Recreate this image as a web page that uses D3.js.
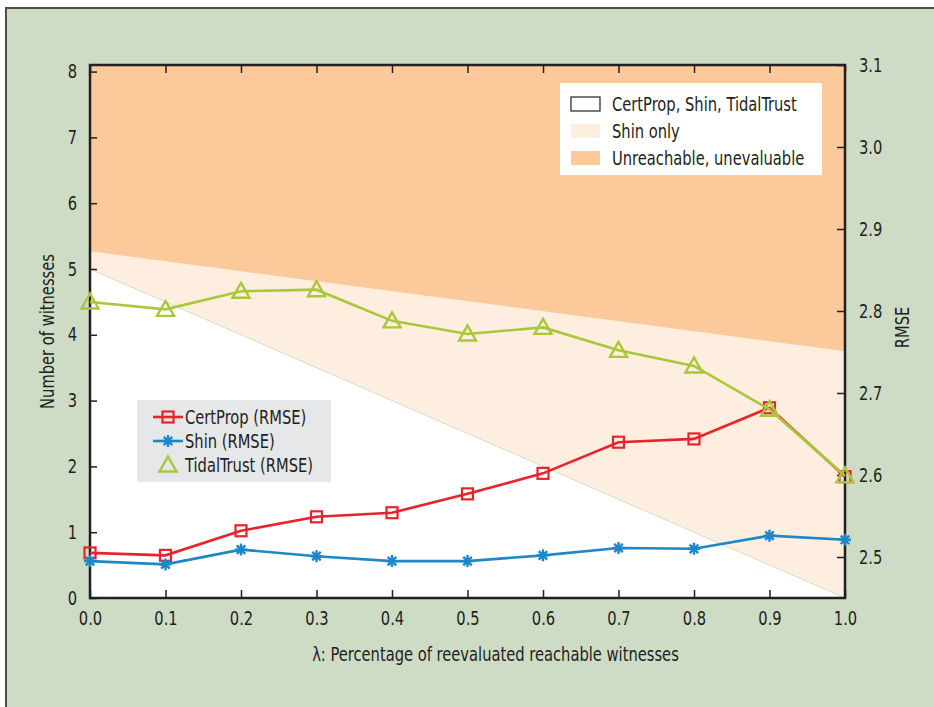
<!DOCTYPE html>
<html>
<head>
<meta charset="utf-8">
<script src="https://cdn.jsdelivr.net/npm/d3@7/dist/d3.min.js"></script>
<style>
  body { margin: 0; background: #fff; }
  text { font-family: "Liberation Sans Narrow", "DejaVu Sans Condensed", "Roboto Condensed", sans-serif; fill: #231f20; }
</style>
</head>
<body>
<div id="container"></div>
<script>
// x values (lambda)
const lambdas = [0.0, 0.1, 0.2, 0.3, 0.4, 0.5, 0.6, 0.7, 0.8, 0.9, 1.0];

// RMSE series (right axis)
const certPropRmse = [2.505, 2.502, 2.532, 2.549, 2.554, 2.577, 2.602, 2.640, 2.644, 2.682, 2.598];
const shinRmse = [2.495, 2.491, 2.509, 2.501, 2.495, 2.495, 2.502, 2.511, 2.510, 2.526, 2.521];
const tidalTrustRmse = [2.811, 2.802, 2.824, 2.826, 2.788, 2.772, 2.780, 2.752, 2.733, 2.680, 2.599];

// region boundaries in number of witnesses (left axis), at lambda 0 and 1
const regionX = [0, 1];
const allReachTop = [5.0, 0.0];      // CertProp, Shin, TidalTrust below this
const shinOnlyTop = [5.27, 3.75];    // Shin only between, unreachable above

const leftTicks = [0, 1, 2, 3, 4, 5, 6, 7, 8];
const rightTicks = [2.5, 2.6, 2.7, 2.8, 2.9, 3.0, 3.1];
const xTicks = [0.0, 0.1, 0.2, 0.3, 0.4, 0.5, 0.6, 0.7, 0.8, 0.9, 1.0];

const width = 934, height = 707;
const margin = { left: 90, right: 89, top: 65, bottom: 109 };
const narrow = 0.86;

const svg = d3.select('#container').append('svg')
  .attr('width', width)
  .attr('height', height);

// panel background
svg.append('rect')
  .attr('x', 6).attr('y', 8)
  .attr('width', width).attr('height', height)
  .attr('fill', '#cedcc6')
  .attr('stroke', '#4d4d4d')
  .attr('stroke-width', 2);

const x = d3.scaleLinear().domain([0, 1]).range([margin.left, width - margin.right]);
const yLeft = d3.scaleLinear().domain([0, 8.1]).range([height - margin.bottom, margin.top]);
const yRight = d3.scaleLinear().domain([2.45, 3.1]).range([height - margin.bottom, margin.top]);

const plotTop = margin.top, plotBottom = height - margin.bottom;
const plotLeft = margin.left, plotRight = width - margin.right;

// regions
svg.append('rect')
  .attr('x', plotLeft).attr('y', plotTop)
  .attr('width', plotRight - plotLeft).attr('height', plotBottom - plotTop)
  .attr('fill', '#fcc99b');

const regionArea = d3.area()
  .x((d, i) => x(regionX[i]))
  .y0(plotBottom)
  .y1(d => yLeft(d));
svg.append('path').datum(shinOnlyTop).attr('d', regionArea).attr('fill', '#fdeedf');
svg.append('path').datum(allReachTop).attr('d', regionArea).attr('fill', '#ffffff');
svg.append('line')
  .attr('x1', x(regionX[0])).attr('y1', yLeft(allReachTop[0]))
  .attr('x2', x(regionX[1])).attr('y2', yLeft(allReachTop[1]))
  .attr('stroke', '#d3dfc9').attr('stroke-width', 1);

// axes
const tickStyle = g => {
  g.select('.domain').remove();
  g.selectAll('.tick line').attr('stroke', '#231f20').attr('stroke-width', 1.5);
  g.selectAll('.tick text').attr('font-size', 19).attr('fill', '#231f20');
};

svg.append('g')
  .attr('transform', `translate(${plotLeft},0)`)
  .call(d3.axisLeft(yLeft).tickValues(leftTicks).tickFormat(d3.format('d')).tickSizeInner(-7).tickPadding(13))
  .call(tickStyle);

svg.append('g')
  .attr('transform', `translate(${plotRight},0)`)
  .call(d3.axisRight(yRight).tickValues(rightTicks).tickFormat(d3.format('.1f')).tickSizeInner(-8).tickPadding(14))
  .call(tickStyle);

svg.append('g')
  .attr('transform', `translate(0,${plotBottom})`)
  .call(d3.axisBottom(x).tickValues(xTicks).tickFormat(d3.format('.1f')).tickSizeInner(-8).tickPadding(14))
  .call(tickStyle);

svg.append('g')
  .attr('transform', `translate(0,${plotTop})`)
  .call(d3.axisTop(x).tickValues(xTicks).tickFormat('').tickSizeInner(-8))
  .call(tickStyle);

svg.append('rect')
  .attr('x', plotLeft).attr('y', plotTop)
  .attr('width', plotRight - plotLeft).attr('height', plotBottom - plotTop)
  .attr('fill', 'none')
  .attr('stroke', '#231f20')
  .attr('stroke-width', 2.5);

// axis titles
svg.append('text')
  .attr('transform', `translate(54,${(plotTop + plotBottom) / 2}) rotate(-90)`)
  .attr('text-anchor', 'middle')
  .attr('font-size', 19)
  .text('Number of witnesses');

svg.append('text')
  .attr('transform', `translate(909,${yRight(2.78)}) rotate(-90)`)
  .attr('text-anchor', 'middle')
  .attr('font-size', 19)
  .text('RMSE');

svg.append('text')
  .attr('x', (plotLeft + plotRight) / 2 + 28)
  .attr('y', 661)
  .attr('text-anchor', 'middle')
  .attr('font-size', 19)
  .text('λ:  Percentage of reevaluated reachable witnesses');

// series
const series = [
  { name: 'CertProp (RMSE)', values: certPropRmse, color: '#e8232b', marker: 'square' },
  { name: 'Shin (RMSE)', values: shinRmse, color: '#1d87c8', marker: 'star' },
  { name: 'TidalTrust (RMSE)', values: tidalTrustRmse, color: '#a8c83a', marker: 'triangle' }
];

const line = d3.line()
  .x((d, i) => x(lambdas[i]))
  .y(d => yRight(d));

function drawMarker(g, type, color) {
  if (type === 'square') {
    g.append('rect')
      .attr('x', -5.5).attr('y', -5.5).attr('width', 11).attr('height', 11)
      .attr('fill', 'none').attr('stroke', color).attr('stroke-width', 2.2);
  } else if (type === 'triangle') {
    g.append('path')
      .attr('d', 'M0,-8.5L8.5,6.5L-8.5,6.5Z')
      .attr('fill', 'none').attr('stroke', color).attr('stroke-width', 2.4);
  } else {
    const spokes = d3.range(4).map(k => {
      const a = k * Math.PI / 4;
      return `M${-6 * Math.cos(a)},${-6 * Math.sin(a)}L${6 * Math.cos(a)},${6 * Math.sin(a)}`;
    }).join('');
    g.append('path').attr('d', spokes).attr('stroke', color).attr('stroke-width', 2.4);
    g.append('circle').attr('r', 3).attr('fill', color);
  }
}

series.forEach(s => {
  svg.append('path')
    .datum(s.values)
    .attr('d', line)
    .attr('fill', 'none')
    .attr('stroke', s.color)
    .attr('stroke-width', 2.6);
  s.values.forEach((v, i) => {
    const g = svg.append('g').attr('transform', `translate(${x(lambdas[i])},${yRight(v)})`);
    drawMarker(g, s.marker, s.color);
  });
});

// region legend
const regionLegend = [
  { name: 'CertProp, Shin, TidalTrust', fill: '#ffffff', stroke: '#231f20' },
  { name: 'Shin only', fill: '#fdeedf', stroke: 'none' },
  { name: 'Unreachable, unevaluable', fill: '#fcc99b', stroke: 'none' }
];
const rl = svg.append('g').attr('transform', 'translate(560,83)');
rl.append('rect').attr('width', 262).attr('height', 92).attr('fill', '#ffffff');
regionLegend.forEach((d, i) => {
  rl.append('rect')
    .attr('x', 11).attr('y', 14 + i * 27).attr('width', 29).attr('height', 14)
    .attr('fill', d.fill).attr('stroke', d.stroke).attr('stroke-width', 1.2);
  rl.append('text')
    .attr('x', 52).attr('y', 28 + i * 27)
    .attr('font-size', 19)
    .text(d.name);
});

// series legend
const sl = svg.append('g').attr('transform', 'translate(137,400)');
sl.append('rect').attr('width', 194).attr('height', 82).attr('fill', '#e6e7e8');
series.forEach((s, i) => {
  const cy = 17 + i * 24;
  if (s.marker !== 'triangle') {
    sl.append('line')
      .attr('x1', 16).attr('x2', 46).attr('y1', cy).attr('y2', cy)
      .attr('stroke', s.color).attr('stroke-width', 2.6);
  }
  drawMarker(sl.append('g').attr('transform', `translate(31,${cy})`), s.marker, s.color);
  sl.append('text')
    .attr('x', 48).attr('y', cy + 7)
    .attr('font-size', 19)
    .text(s.name);
});

// squeeze all text horizontally to mimic the condensed face
svg.selectAll('text').each(function () {
  const w = this.getComputedTextLength();
  if (w > 0) {
    d3.select(this)
      .attr('textLength', w * narrow)
      .attr('lengthAdjust', 'spacingAndGlyphs');
  }
});
</script>
</body>
</html>
